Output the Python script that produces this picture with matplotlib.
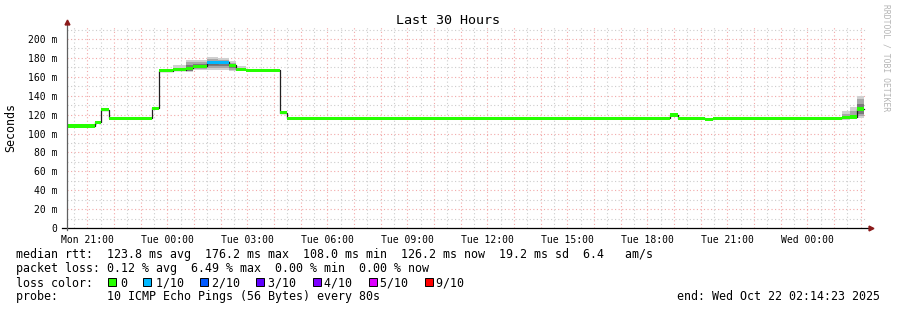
import datetime as dt
import numpy as np
import matplotlib
matplotlib.use("Agg")
import matplotlib.pyplot as plt
import matplotlib.dates as mdates
from matplotlib.patches import Rectangle

W, H = 897, 310
plt.rcParams['font.family'] = ['DejaVu Sans Mono']

start = dt.datetime(2025, 10, 20, 20, 14, 23)
end = start + dt.timedelta(hours=30)

# bins: start offset (hours from graph start), median rtt (ms), loss (pings out of 10)
bin_start = [0.0, 1.05, 1.275, 1.575, 3.19, 3.45, 3.975, 4.46, 4.725, 5.25, 5.66, 6.075,
             6.34, 6.71, 7.99, 8.25, 22.61, 22.91, 23.925, 24.225, 29.06, 29.36, 29.625]
bin_end_last = 29.89
median = [108.0, 112.0, 125.0, 116.0, 126.5, 166.5, 167.5, 169.0, 171.0, 175.0, 175.5, 172.0,
          168.0, 166.7, 122.0, 116.0, 119.5, 116.0, 115.0, 116.0, 117.0, 117.5, 126.0]
loss = [0, 0, 0, 0, 0, 0, 0, 0, 0, 1, 1, 0, 0, 0, 0, 0, 0, 0, 0, 0, 0, 0, 0]

# smoke (ms): outer, middle and inner spread of the pings, nan = no visible smoke
nan = np.nan
smoke_outer_lo = [nan]*6 + [166, 165, 167, 167, 167, 166, 166] + [nan]*7 + [114, 115, 116]
smoke_outer_hi = [nan]*6 + [172, 178, 178, 181, 180, 177, 171] + [nan]*7 + [124, 128, 140]
smoke_mid_lo = [nan]*6 + [166, 166, 168, 169, 169, 167, 167] + [nan]*7 + [115, 116, 118]
smoke_mid_hi = [nan]*6 + [169, 176, 176, 179, 178, 175, 169] + [nan]*7 + [121, 124, 137]
smoke_in_lo = [nan]*7 + [166, 169, 171, 171, 169] + [nan]*8 + [116, 116, 121]
smoke_in_hi = [nan]*7 + [172, 174, 177, 177, 174] + [nan]*8 + [118, 120, 131]

loss_labels = ['0', '1/10', '2/10', '3/10', '4/10', '5/10', '9/10']
loss_colors = ['#26ff00', '#00b8ff', '#0059ff', '#5e00ff', '#7e00ff', '#dd00ff', '#ff0000']

stats_rtt = "median rtt:  123.8 ms avg  176.2 ms max  108.0 ms min  126.2 ms now  19.2 ms sd  6.4   am/s"
stats_loss = "packet loss: 0.12 % avg  6.49 % max  0.00 % min  0.00 % now"
probe = "probe:       10 ICMP Echo Pings (56 Bytes) every 80s"

fig = plt.figure(figsize=(W/100, H/100), dpi=100)
ax = fig.add_axes([67/W, (H-228)/H, 800/W, 201/H])
ymax = 201/0.945
ax.set_xlim(mdates.date2num(start), mdates.date2num(end))
ax.set_ylim(0, ymax)

t0 = mdates.date2num(start)
edges = np.array(bin_start + [bin_end_last])
x = t0 + edges[:-1]/24
w = np.diff(edges)/24
med = np.array(median)

# grid
grid_kw = dict(lw=0.8, ls=(0, (1, 2.2)), zorder=0)
for v in np.arange(10, ymax, 10):
    ax.axhline(v, color='#f2a8a8' if v % 20 == 0 else '#cccccc', **grid_kw)
for t in mdates.MinuteLocator(byminute=[30]).tick_values(start, end):
    ax.axvline(t, color='#cccccc', **grid_kw)
for t in mdates.HourLocator().tick_values(start, end):
    ax.axvline(t, color='#f2a8a8', **grid_kw)

# smoke
for lo, hi, c in [(smoke_outer_lo, smoke_outer_hi, '#d0d0d0'),
                  (smoke_mid_lo, smoke_mid_hi, '#a8a8a8'),
                  (smoke_in_lo, smoke_in_hi, '#7a7a7a')]:
    lo = np.array(lo, float); hi = np.array(hi, float)
    ax.bar(x, hi-lo, bottom=lo, width=w, align='edge', color=c, lw=0, zorder=1)

# median
ax.step(np.append(x, t0 + edges[-1]/24), np.append(med, med[-1]), where='post',
        color='#202020', lw=0.9, zorder=2)
band = 1.7
ax.bar(x, 2*band, bottom=med-band, width=w, align='edge',
       color=[loss_colors[l] for l in loss], lw=0, zorder=3)

# axes
for s in ax.spines.values():
    s.set_visible(False)
ax.plot([-5/800, 1+4/800], [0, 0], transform=ax.transAxes, clip_on=False, color='black', lw=0.9, zorder=4)
ax.plot([0, 0], [-2/201, 1+4/201], transform=ax.transAxes, clip_on=False, color='#606060', lw=0.9, zorder=4)
ax.plot(1+4/800, 0, marker='>', ms=3.5, color='#8b1a1a', transform=ax.transAxes, clip_on=False, zorder=5)
ax.plot(0, 1+5/201, marker='^', ms=3.5, color='#8b1a1a', transform=ax.transAxes, clip_on=False, zorder=5)

ax.xaxis.set_major_locator(mdates.HourLocator(byhour=range(0, 24, 3)))
ax.xaxis.set_major_formatter(mdates.DateFormatter('%a %H:%M'))
yt = np.arange(0, 201, 20)
ax.set_yticks(yt)
ax.set_yticklabels(['0' if v == 0 else '%d m' % v for v in yt])
ax.tick_params(axis='both', labelsize=7, length=0)
ax.tick_params(axis='y', pad=7)
ax.tick_params(axis='x', pad=5)

def fx(px):
    return px / W

def fy(py):
    return 1 - py / H

fig.text(fx(448), fy(20), 'Last 30 Hours', ha='center', va='center', fontsize=9.6)
fig.text(fx(11), fy(127), 'Seconds', rotation=90, ha='center', va='center', fontsize=8.4)
fig.text(fx(886), fy(4), 'RRDTOOL / TOBI OETIKER', rotation=270, ha='center', va='top',
         fontsize=5.8, color='#b4b4b4')

cw = 7.05
fs = 8.4
fig.text(fx(16), fy(258), stats_rtt, ha='left', va='baseline', fontsize=fs)
fig.text(fx(16), fy(272), stats_loss, ha='left', va='baseline', fontsize=fs)
line = "loss color:  "
for lab, c in zip(loss_labels, loss_colors):
    col = len(line)
    fig.add_artist(Rectangle((fx(16 + col*cw + 0.5), fy(286)), 8/W, 8/H, transform=fig.transFigure,
                             facecolor=c, edgecolor='black', lw=0.7))
    line += "  " + lab + "  "
fig.text(fx(16), fy(286), line, ha='left', va='baseline', fontsize=fs)
fig.text(fx(16), fy(300), probe, ha='left', va='baseline', fontsize=fs)
fig.text(fx(880), fy(300), 'end: ' + end.strftime('%a %b %d %H:%M:%S %Y'), ha='right',
         va='baseline', fontsize=fs)

fig.savefig('out.png', dpi=100)
